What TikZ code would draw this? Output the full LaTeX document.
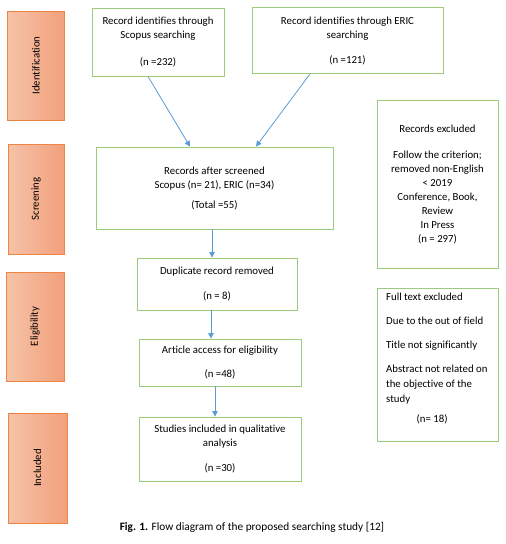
\documentclass[tikz,border=0pt]{standalone}
\usepackage{fontspec}
\setmainfont{Carlito}[Ligatures=NoCommon]
\usetikzlibrary{arrows.meta}
\definecolor{boxgreen}{HTML}{9CCB7C}
\definecolor{stageedge}{HTML}{EE8445}
\definecolor{stageL}{HTML}{F6C3A8}
\definecolor{stageR}{HTML}{F2A07B}
\definecolor{arrowblue}{HTML}{5B9BD5}
\tikzset{
  flowbox/.style={draw=boxgreen, line width=0.9pt, fill=white, inner sep=0pt, align=center,
    font=\fontsize{10.8}{14}\selectfont},
  stagebox/.style={draw=stageedge, line width=0.9pt, left color=stageL, right color=stageR,
    inner sep=0pt},
  stagelabel/.style={rotate=90, font=\fontsize{10.8}{12}\selectfont},
  flowarrow/.style={draw=arrowblue, line width=0.8pt, -{Triangle[width=5.5pt,length=5.5pt]}},
}
\begin{document}
\begin{tikzpicture}[x=1pt,y=-1pt]
\useasboundingbox (0,0) rectangle (506,544);
% stage boxes
\node[stagebox, minimum width=57pt, minimum height=109pt] (sid) at (36,65.5) {};
\node[stagelabel] (tid) at (sid.center) {Identification};
\node[stagebox, minimum width=56pt, minimum height=110pt] (sscr) at (36,199) {};
\node[stagelabel] (tscr) at (sscr.center) {Screening};
\node[stagebox, minimum width=58pt, minimum height=109pt] (selig) at (35,326.5) {};
\node[stagelabel] (telig) at (selig.center) {Eligibility};
\node[stagebox, minimum width=59pt, minimum height=110pt] (sinc) at (37.5,468) {};
\node[stagelabel] (tinc) at (sinc.center) {Included};
% flow boxes
\node[flowbox, minimum width=132pt, minimum height=68pt] (scopus) at (158,42)
  {Record identifies through\\Scopus searching\\[13pt](n =232)};
\node[flowbox, minimum width=191pt, minimum height=66pt] (eric) at (347.5,40.5)
  {Record identifies through ERIC\\searching\\[11pt](n =121)};
\node[flowbox, minimum width=237pt, minimum height=82pt] (screened) at (214.5,188)
  {Records after screened\\Scopus (n= 21), ERIC (n=34)\\[6pt](Total =55)};
\node[flowbox, minimum width=160pt, minimum height=52pt] (dup) at (217,284)
  {Duplicate record removed\\[11pt](n = 8)};
\node[flowbox, minimum width=162pt, minimum height=47pt] (article) at (220,362.5)
  {Article access for eligibility\\[10pt](n =48)};
\node[flowbox, minimum width=162pt, minimum height=64pt] (studies) at (220,449)
  {Studies included in qualitative\\analysis\\[11pt](n =30)};
\node[flowbox, minimum width=121pt, minimum height=168pt] (recex) at (437.5,184)
  {Records excluded\\[12pt]Follow the criterion;\\removed non-English\\< 2019\\Conference, Book,\\Review\\In Press\\(n = 297)};
\node[flowbox, minimum width=121pt, minimum height=153pt] (fullex) at (437.5,364.5) {};
\node[font=\fontsize{10.8}{15}\selectfont, align=left, anchor=north west, inner sep=0pt] (fulltxt) at (386,293)
  {Full text excluded\\[9pt]Due to the out of field\\[9pt]Title not significantly\\[9pt]Abstract not related on\\the objective of the\\study\\[5pt]\makebox[92pt]{(n= 18)}};
% caption
\node[font=\fontsize{11.3}{12}\selectfont, inner sep=0pt] (caption) at (252,527)
  {\textbf{Fig. 1.} Flow diagram of the proposed searching study [12]};
% arrows
\draw[flowarrow] ([xshift=-10pt]scopus.south) -- ([xshift=-24.5pt]screened.north);
\draw[flowarrow] ([xshift=-37.5pt]eric.south) -- ([xshift=41.5pt]screened.north);
\draw[flowarrow] ([xshift=-2.5pt]screened.south) -- ([xshift=-5pt]dup.north);
\draw[flowarrow] ([xshift=-6pt]dup.south) -- ([xshift=-9pt]article.north);
\draw[flowarrow] ([xshift=-5pt]article.south) -- ([xshift=-5pt]studies.north);
\end{tikzpicture}
\end{document}
